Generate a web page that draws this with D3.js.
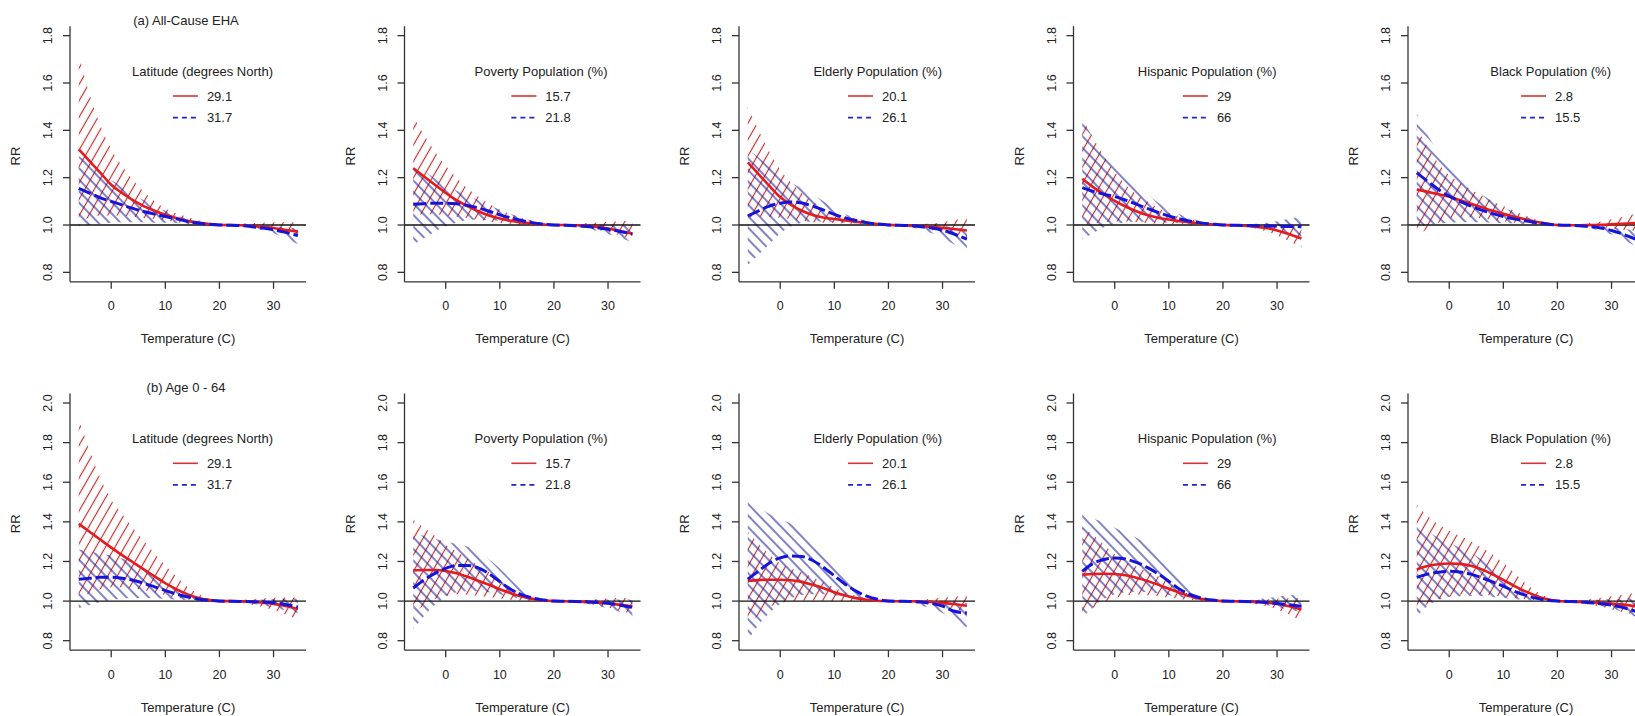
<!DOCTYPE html>
<html><head><meta charset="utf-8">
<script src="https://cdn.jsdelivr.net/npm/d3@7"></script>
<style>body{margin:0;background:#fff;overflow:hidden} svg{display:block}</style>
</head><body><svg id="chart" width="1635" height="716"></svg>
<script>
// ---------- data ----------
const temperature = [-6,-4,-2,0,2,4,6,8,10,12,14,16,18,20,22,24,26,28,30,32,34.5];
const rowTitles = ["(a) All-Cause EHA", "(b) Age 0 - 64"];
const modifiers = ["Latitude (degrees North)", "Poverty Population (%)", "Elderly Population (%)", "Hispanic Population (%)", "Black Population (%)"];
const lowLabels = ["29.1", "15.7", "20.1", "29", "2.8"];
const highLabels = ["31.7", "21.8", "26.1", "66", "15.5"];
const xTicks = [0, 10, 20, 30];
const yTicksA = [0.8, 1.0, 1.2, 1.4, 1.6, 1.8];
const yTicksB = [0.8, 1.0, 1.2, 1.4, 1.6, 1.8, 2.0];
const xLabel = "Temperature (C)";
const yLabel = "RR";

// (a) All-Cause EHA
const aLatRed    = [1.32,1.27,1.22,1.17,1.135,1.105,1.08,1.06,1.043,1.03,1.018,1.01,1.004,1.0,1.0,0.999,0.996,0.992,0.987,0.98,0.972];
const aLatRedLo  = [1.02,1.03,1.04,1.04,1.04,1.035,1.03,1.025,1.02,1.012,1.006,1.002,1.0,1.0,0.998,0.996,0.99,0.983,0.975,0.965,0.955];
const aLatRedHi  = [1.72,1.55,1.42,1.32,1.25,1.19,1.14,1.10,1.07,1.05,1.035,1.02,1.01,1.0,1.002,1.005,1.008,1.01,1.012,1.012,1.012];
const aLatBlue   = [1.155,1.135,1.115,1.10,1.085,1.07,1.057,1.046,1.036,1.026,1.016,1.008,1.003,1.0,0.999,0.997,0.993,0.987,0.98,0.97,0.955];
const aLatBlueLo = [0.995,1.0,1.005,1.01,1.012,1.012,1.012,1.01,1.01,1.008,1.005,1.002,1.0,1.0,0.998,0.994,0.987,0.978,0.965,0.945,0.92];
const aLatBlueHi = [1.29,1.26,1.22,1.19,1.16,1.13,1.105,1.08,1.06,1.04,1.027,1.015,1.006,1.0,1.0,1.0,1.0,0.998,0.995,0.99,0.985];

const aPovRed    = [1.24,1.205,1.17,1.135,1.105,1.08,1.058,1.04,1.027,1.018,1.011,1.006,1.002,1.0,1.0,0.999,0.997,0.992,0.985,0.976,0.963];
const aPovRedLo  = [1.04,1.045,1.045,1.04,1.035,1.03,1.022,1.015,1.008,1.004,1.001,1.0,1.0,1.0,0.998,0.994,0.988,0.98,0.97,0.958,0.94];
const aPovRedHi  = [1.46,1.38,1.31,1.25,1.20,1.155,1.12,1.09,1.065,1.045,1.03,1.018,1.008,1.0,1.001,1.004,1.008,1.011,1.014,1.016,1.018];
const aPovBlue   = [1.088,1.09,1.092,1.092,1.09,1.083,1.072,1.058,1.043,1.03,1.019,1.01,1.004,1.0,0.999,0.997,0.994,0.989,0.982,0.974,0.962];
const aPovBlueLo = [0.918,0.945,0.972,0.995,1.01,1.02,1.022,1.02,1.018,1.013,1.007,1.003,1.0,1.0,0.998,0.993,0.986,0.975,0.962,0.948,0.925];
const aPovBlueHi = [1.265,1.23,1.195,1.168,1.145,1.125,1.105,1.085,1.065,1.047,1.032,1.018,1.007,1.0,1.0,1.001,1.002,1.002,1.001,0.999,0.997];

const aEldRed    = [1.265,1.215,1.165,1.118,1.085,1.06,1.042,1.032,1.025,1.019,1.014,1.009,1.004,1.0,0.999,0.997,0.995,0.992,0.988,0.983,0.977];
const aEldRedLo  = [1.03,1.035,1.035,1.03,1.025,1.018,1.012,1.01,1.008,1.006,1.004,1.002,1.0,1.0,0.998,0.993,0.987,0.978,0.968,0.955,0.935];
const aEldRedHi  = [1.50,1.40,1.31,1.235,1.18,1.135,1.098,1.07,1.05,1.036,1.026,1.016,1.007,1.0,1.0,1.002,1.004,1.007,1.012,1.02,1.031];
const aEldBlue   = [1.038,1.06,1.08,1.092,1.097,1.093,1.08,1.063,1.045,1.03,1.019,1.01,1.004,1.0,0.999,0.997,0.993,0.987,0.978,0.963,0.94];
const aEldBlueLo = [0.83,0.875,0.92,0.965,0.995,1.01,1.015,1.015,1.013,1.01,1.006,1.003,1.0,1.0,0.997,0.99,0.98,0.965,0.945,0.92,0.895];
const aEldBlueHi = [1.32,1.285,1.245,1.21,1.18,1.155,1.13,1.10,1.068,1.045,1.03,1.018,1.007,1.0,1.0,1.001,1.002,1.0,0.997,0.99,0.98];

const aHisRed    = [1.195,1.16,1.13,1.102,1.078,1.058,1.042,1.031,1.023,1.016,1.011,1.006,1.002,1.0,0.999,0.997,0.993,0.987,0.977,0.963,0.943];
const aHisRedLo  = [1.0,1.005,1.012,1.015,1.015,1.012,1.008,1.005,1.004,1.003,1.002,1.001,1.0,1.0,0.998,0.993,0.985,0.973,0.957,0.935,0.905];
const aHisRedHi  = [1.45,1.37,1.29,1.225,1.17,1.13,1.10,1.072,1.052,1.036,1.024,1.014,1.006,1.0,1.0,1.001,1.002,1.002,1.0,0.997,0.993];
const aHisBlue   = [1.158,1.142,1.13,1.12,1.105,1.088,1.07,1.053,1.038,1.026,1.016,1.009,1.004,1.0,0.999,0.998,0.997,0.996,0.995,0.994,0.993];
const aHisBlueLo = [0.94,0.965,0.99,1.005,1.012,1.015,1.013,1.012,1.01,1.007,1.004,1.002,1.0,1.0,0.998,0.995,0.99,0.983,0.975,0.965,0.95];
const aHisBlueHi = [1.44,1.37,1.30,1.25,1.205,1.165,1.13,1.095,1.066,1.045,1.028,1.016,1.007,1.0,1.0,1.002,1.005,1.01,1.016,1.025,1.037];

const aBlkRed    = [1.15,1.14,1.13,1.12,1.105,1.09,1.075,1.06,1.047,1.035,1.024,1.014,1.006,1.0,0.999,0.999,1.0,1.001,1.003,1.005,1.008];
const aBlkRedLo  = [0.953,0.985,1.01,1.03,1.035,1.033,1.028,1.022,1.016,1.01,1.006,1.003,1.001,1.0,0.998,0.995,0.992,0.99,0.985,0.98,0.975];
const aBlkRedHi  = [1.41,1.33,1.26,1.21,1.18,1.15,1.125,1.10,1.08,1.06,1.04,1.024,1.01,1.0,1.0,1.003,1.008,1.015,1.024,1.034,1.047];
const aBlkBlue   = [1.22,1.185,1.15,1.122,1.1,1.08,1.063,1.048,1.036,1.026,1.018,1.01,1.004,1.0,0.999,0.997,0.993,0.987,0.977,0.962,0.94];
const aBlkBlueLo = [0.995,1.0,1.005,1.01,1.012,1.012,1.012,1.01,1.008,1.006,1.004,1.002,1.0,1.0,0.997,0.992,0.985,0.975,0.96,0.94,0.91];
const aBlkBlueHi = [1.47,1.38,1.31,1.25,1.205,1.165,1.13,1.10,1.075,1.055,1.036,1.021,1.009,1.0,1.0,1.0,0.999,0.997,0.993,0.985,0.975];

// (b) Age 0 - 64
const bLatRed    = [1.39,1.35,1.31,1.27,1.232,1.196,1.16,1.125,1.09,1.06,1.035,1.017,1.006,1.0,1.0,0.999,0.996,0.992,0.986,0.976,0.96];
const bLatRedLo  = [1.02,1.04,1.06,1.07,1.07,1.065,1.055,1.045,1.03,1.018,1.008,1.003,1.0,1.0,0.998,0.992,0.982,0.97,0.955,0.935,0.905];
const bLatRedHi  = [1.92,1.76,1.62,1.51,1.44,1.37,1.305,1.24,1.18,1.125,1.075,1.038,1.012,1.0,1.001,1.005,1.01,1.014,1.017,1.018,1.018];
const bLatBlue   = [1.11,1.115,1.12,1.12,1.115,1.105,1.09,1.072,1.053,1.036,1.022,1.011,1.004,1.0,0.999,0.998,0.997,0.995,0.991,0.984,0.97];
const bLatBlueLo = [0.965,0.98,0.995,1.005,1.012,1.015,1.015,1.014,1.012,1.008,1.005,1.002,1.0,1.0,0.998,0.993,0.987,0.978,0.967,0.955,0.94];
const bLatBlueHi = [1.26,1.25,1.24,1.23,1.215,1.195,1.165,1.13,1.095,1.065,1.04,1.02,1.007,1.0,1.0,1.002,1.005,1.008,1.01,1.012,1.013];

const bPovRed    = [1.155,1.157,1.157,1.152,1.14,1.123,1.103,1.082,1.06,1.04,1.023,1.011,1.004,1.0,0.999,0.998,0.996,0.993,0.989,0.982,0.972];
const bPovRedLo  = [0.93,0.98,1.01,1.03,1.035,1.032,1.027,1.02,1.013,1.007,1.003,1.001,1.0,1.0,0.998,0.994,0.987,0.978,0.967,0.953,0.935];
const bPovRedHi  = [1.41,1.37,1.33,1.285,1.25,1.215,1.18,1.145,1.105,1.07,1.04,1.02,1.007,1.0,1.0,1.003,1.006,1.01,1.013,1.015,1.016];
const bPovBlue   = [1.066,1.107,1.14,1.165,1.18,1.18,1.168,1.138,1.098,1.06,1.033,1.016,1.006,1.0,0.999,0.998,0.996,0.993,0.989,0.981,0.968];
const bPovBlueLo = [0.856,0.925,0.98,1.02,1.045,1.05,1.05,1.045,1.035,1.022,1.012,1.005,1.001,1.0,0.998,0.993,0.986,0.976,0.963,0.948,0.92];
const bPovBlueHi = [1.34,1.33,1.315,1.30,1.29,1.275,1.25,1.21,1.165,1.11,1.06,1.03,1.01,1.0,1.0,1.002,1.004,1.006,1.008,1.008,1.007];

const bEldRed    = [1.102,1.106,1.108,1.108,1.105,1.097,1.082,1.065,1.045,1.028,1.015,1.007,1.002,1.0,0.999,0.999,0.998,0.995,0.991,0.985,0.976];
const bEldRedLo  = [0.88,0.93,0.97,0.99,1.0,1.003,1.003,1.002,1.001,1.0,1.0,1.0,1.0,1.0,0.998,0.995,0.99,0.982,0.972,0.96,0.945];
const bEldRedHi  = [1.35,1.29,1.235,1.19,1.165,1.145,1.12,1.095,1.068,1.045,1.027,1.014,1.005,1.0,1.0,1.003,1.007,1.012,1.017,1.022,1.026];
const bEldBlue   = [1.11,1.152,1.192,1.218,1.228,1.225,1.205,1.17,1.128,1.085,1.05,1.025,1.009,1.0,0.999,0.998,0.995,0.988,0.975,0.95,0.94];
const bEldBlueLo = [0.80,0.88,0.94,0.985,1.015,1.03,1.035,1.035,1.03,1.022,1.013,1.006,1.002,1.0,0.997,0.99,0.978,0.962,0.94,0.90,0.868];
const bEldBlueHi = [1.515,1.475,1.44,1.415,1.39,1.355,1.305,1.24,1.17,1.11,1.06,1.027,1.009,1.0,1.0,1.002,1.004,1.004,1.002,0.998,0.99];

const bHisRed    = [1.133,1.137,1.138,1.137,1.13,1.118,1.102,1.083,1.062,1.042,1.024,1.011,1.004,1.0,0.999,0.998,0.996,0.992,0.986,0.975,0.958];
const bHisRedLo  = [0.93,0.965,0.995,1.015,1.03,1.033,1.03,1.025,1.018,1.011,1.005,1.002,1.0,1.0,0.998,0.993,0.985,0.975,0.958,0.935,0.90];
const bHisRedHi  = [1.37,1.335,1.285,1.237,1.2,1.175,1.15,1.125,1.093,1.06,1.032,1.013,1.004,1.0,1.0,1.003,1.006,1.009,1.012,1.014,1.016];
const bHisBlue   = [1.15,1.19,1.21,1.217,1.212,1.195,1.17,1.138,1.1,1.06,1.032,1.015,1.005,1.0,0.999,0.998,0.996,0.993,0.988,0.982,0.974];
const bHisBlueLo = [0.915,0.97,1.01,1.035,1.045,1.047,1.045,1.04,1.03,1.02,1.01,1.004,1.001,1.0,0.998,0.994,0.988,0.98,0.97,0.958,0.945];
const bHisBlueHi = [1.455,1.42,1.395,1.37,1.345,1.32,1.285,1.235,1.175,1.115,1.06,1.025,1.008,1.0,1.0,1.003,1.008,1.015,1.022,1.028,1.033];

const bBlkRed    = [1.16,1.177,1.186,1.19,1.188,1.178,1.16,1.135,1.107,1.077,1.05,1.027,1.01,1.0,0.998,0.996,0.994,0.991,0.987,0.982,0.974];
const bBlkRedLo  = [0.95,0.985,1.01,1.025,1.033,1.035,1.033,1.028,1.022,1.015,1.009,1.004,1.001,1.0,0.996,0.99,0.982,0.972,0.958,0.945,0.93];
const bBlkRedHi  = [1.487,1.43,1.388,1.355,1.328,1.302,1.27,1.235,1.193,1.143,1.093,1.05,1.02,1.0,1.0,1.004,1.01,1.017,1.024,1.032,1.042];
const bBlkBlue   = [1.12,1.136,1.146,1.15,1.147,1.136,1.118,1.097,1.075,1.05,1.03,1.015,1.005,1.0,0.998,0.996,0.992,0.987,0.98,0.968,0.948];
const bBlkBlueLo = [0.923,0.975,1.005,1.02,1.025,1.026,1.024,1.02,1.015,1.01,1.005,1.002,1.0,1.0,0.997,0.992,0.985,0.975,0.962,0.945,0.92];
const bBlkBlueHi = [1.395,1.353,1.32,1.294,1.268,1.243,1.21,1.168,1.125,1.083,1.05,1.025,1.01,1.0,1.0,1.002,1.005,1.008,1.01,1.012,1.014];

// series table built from the arrays above: [redMean, redLo, redHi, blueMean, blueLo, blueHi]
const rowSeries = [
  [[aLatRed,aLatRedLo,aLatRedHi,aLatBlue,aLatBlueLo,aLatBlueHi],
   [aPovRed,aPovRedLo,aPovRedHi,aPovBlue,aPovBlueLo,aPovBlueHi],
   [aEldRed,aEldRedLo,aEldRedHi,aEldBlue,aEldBlueLo,aEldBlueHi],
   [aHisRed,aHisRedLo,aHisRedHi,aHisBlue,aHisBlueLo,aHisBlueHi],
   [aBlkRed,aBlkRedLo,aBlkRedHi,aBlkBlue,aBlkBlueLo,aBlkBlueHi]],
  [[bLatRed,bLatRedLo,bLatRedHi,bLatBlue,bLatBlueLo,bLatBlueHi],
   [bPovRed,bPovRedLo,bPovRedHi,bPovBlue,bPovBlueLo,bPovBlueHi],
   [bEldRed,bEldRedLo,bEldRedHi,bEldBlue,bEldBlueLo,bEldBlueHi],
   [bHisRed,bHisRedLo,bHisRedHi,bHisBlue,bHisBlueLo,bHisBlueHi],
   [bBlkRed,bBlkRedLo,bBlkRedHi,bBlkBlue,bBlkBlueLo,bBlkBlueHi]]
];

// ---------- layout / style ----------
const FONT = "'Liberation Sans', Arial, Helvetica, sans-serif";
const TXT = "#222";
const AX = "#333";
const RED = "#e41a1c", BLUE = "#1414dc";
const colStep = 334.5, plotL = 70, plotW = 236;
const rowsLayout = [
  {top: 26.2, bottom: 281.8, domain: [0.76, 1.84], ticks: yTicksA},
  {top: 393.5, bottom: 650.2, domain: [0.752, 2.048], ticks: yTicksB}
];

const svg = d3.select("#chart");
const defs = svg.append("defs");
function hatch(id, color, angle, gap) {
  const p = defs.append("pattern").attr("id", id)
    .attr("patternUnits", "userSpaceOnUse")
    .attr("width", gap).attr("height", 20)
    .attr("patternTransform", `rotate(${angle})`);
  p.append("line").attr("x1", gap/2).attr("x2", gap/2).attr("y1", -2).attr("y2", 22)
    .attr("stroke", color).attr("stroke-width", 1.15);
}
hatch("hatchRed", "#c42a2a", 30, 8.2);
hatch("hatchBlue", "#26269e", -44, 8.0);

rowsLayout.forEach((R, r) => {
  const y = d3.scaleLinear().domain(R.domain).range([R.bottom, R.top]);
  for (let c = 0; c < 5; c++) {
    const ox = c * colStep;
    const L = ox + plotL, Rr = L + plotW;
    const x = d3.scaleLinear().domain([-7.62, 36.0]).range([L, Rr]);
    const g = svg.append("g");
    const s = rowSeries[r][c];
    const pts = (arr) => temperature.map((t, i) => [t, arr[i]]);
    const band = (lo, hi) => temperature.map((t, i) => [t, lo[i], hi[i]]);
    const area = d3.area().x(d => x(d[0])).y0(d => y(d[1])).y1(d => y(d[2])).curve(d3.curveMonotoneX);
    const line = d3.line().x(d => x(d[0])).y(d => y(d[1])).curve(d3.curveMonotoneX);

    // hatched confidence bands
    g.append("path").attr("d", area(band(s[1], s[2]))).attr("fill", "url(#hatchRed)");
    g.append("path").attr("d", area(band(s[4], s[5]))).attr("fill", "url(#hatchBlue)");

    // reference line at RR = 1
    g.append("line").attr("x1", L).attr("x2", Rr).attr("y1", y(1)).attr("y2", y(1))
      .attr("stroke", "#111").attr("stroke-width", 1.3);

    // estimate curves
    g.append("path").attr("d", line(pts(s[0]))).attr("fill", "none")
      .attr("stroke", RED).attr("stroke-width", 2.6);
    g.append("path").attr("d", line(pts(s[3]))).attr("fill", "none")
      .attr("stroke", BLUE).attr("stroke-width", 3).attr("stroke-dasharray", "13,4");

    // axes (L-shaped box)
    const ax = svg.append("g").attr("stroke", AX).attr("stroke-width", 1.3).attr("fill", "none");
    ax.append("line").attr("x1", L).attr("x2", L).attr("y1", R.top).attr("y2", R.bottom);
    ax.append("line").attr("x1", L).attr("x2", Rr).attr("y1", R.bottom).attr("y2", R.bottom);
    xTicks.forEach(t => {
      ax.append("line").attr("x1", x(t)).attr("x2", x(t)).attr("y1", R.bottom).attr("y2", R.bottom + 7);
      svg.append("text").attr("x", x(t)).attr("y", R.bottom + 24).attr("dy", "0.35em")
        .attr("text-anchor", "middle").attr("font-family", FONT).attr("font-size", 12.5)
        .attr("fill", TXT).text(t);
    });
    R.ticks.forEach(t => {
      ax.append("line").attr("x1", L - 7).attr("x2", L).attr("y1", y(t)).attr("y2", y(t));
      svg.append("text").attr("transform", `translate(${L - 22},${y(t)}) rotate(-90)`)
        .attr("dy", "0.35em").attr("text-anchor", "middle").attr("font-family", FONT)
        .attr("font-size", 12.5).attr("fill", TXT).text(t.toFixed(1));
    });

    // axis titles
    svg.append("text").attr("x", (L + Rr) / 2).attr("y", R.bottom + 57).attr("dy", "0.35em")
      .attr("text-anchor", "middle").attr("font-family", FONT).attr("font-size", 13)
      .attr("fill", TXT).text(xLabel);
    svg.append("text").attr("transform", `translate(${L - 54.3},${(R.top + R.bottom) / 2 + 2}) rotate(-90)`)
      .attr("dy", "0.35em").attr("text-anchor", "middle").attr("font-family", FONT)
      .attr("font-size", 13).attr("fill", TXT).text(yLabel);

    if (c === 0) {
      svg.append("text").attr("x", L + 116).attr("y", R.top - 6).attr("dy", "0.35em")
        .attr("text-anchor", "middle").attr("font-family", FONT).attr("font-size", 13)
        .attr("fill", TXT).text(rowTitles[r]);
    }

    // legend
    const lg = svg.append("g");
    const tt = lg.append("text").attr("y", R.top + 44.8).attr("dy", "0.35em")
      .attr("text-anchor", "middle").attr("font-family", FONT).attr("font-size", 13)
      .attr("fill", TXT).text(modifiers[c]);
    const tw = tt.node().getComputedTextLength();
    const cx = L + 203 - tw / 2;
    tt.attr("x", cx);
    const labels = [lowLabels[c], highLabels[c]];
    const tmp = lg.append("text").attr("font-family", FONT).attr("font-size", 13)
      .text(labels[0].length >= labels[1].length ? labels[0] : labels[1]);
    const lw = tmp.node().getComputedTextLength();
    tmp.remove();
    const segLen = 25, gap = 9;
    const bx = cx - (segLen + gap + lw) / 2;
    labels.forEach((lab, i) => {
      const yy = R.top + 44.8 + 25 + i * 21.6;
      lg.append("line").attr("x1", bx).attr("x2", bx + segLen).attr("y1", yy).attr("y2", yy)
        .attr("stroke", i === 0 ? "#d23434" : "#2424c8").attr("stroke-width", 1.6)
        .attr("stroke-dasharray", i === 0 ? null : "5,4");
      lg.append("text").attr("x", bx + segLen + gap).attr("y", yy).attr("dy", "0.35em")
        .attr("font-family", FONT).attr("font-size", 13).attr("fill", TXT).text(lab);
    });
  }
});
</script>
</body></html>
